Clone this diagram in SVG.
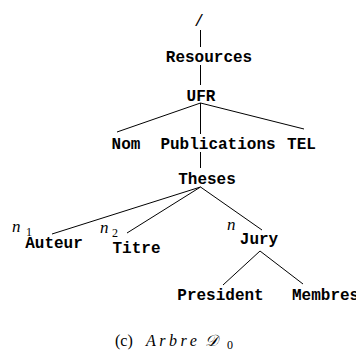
<svg xmlns="http://www.w3.org/2000/svg" width="356" height="358" viewBox="0 0 356 358">
  <style>
    .lbl { font-family: "Liberation Mono", "DejaVu Sans Mono", monospace; font-weight: bold; font-size: 16px; fill: #000; text-anchor: middle; }
    .root { font-family: "Liberation Mono", "DejaVu Sans Mono", monospace; font-size: 16px; fill: #000; text-anchor: middle; }
    .var { font-family: "Liberation Serif", "DejaVu Serif", serif; font-style: italic; font-size: 17px; fill: #000; }
    .sub { font-family: "Liberation Serif", "DejaVu Serif", serif; font-size: 12px; fill: #000; }
    .cap { font-family: "Liberation Serif", "DejaVu Serif", serif; font-size: 16px; fill: #000; }
    .edge { stroke: #000; stroke-width: 1; fill: none; }
  </style>
  <rect width="356" height="358" fill="#fff"/>

  <!-- tree edges -->
  <g id="edges" class="edge">
    <line x1="200.5" y1="30" x2="200.5" y2="47"/>
    <line x1="200.5" y1="65" x2="200.5" y2="85"/>
    <line x1="200.5" y1="103" x2="117" y2="132"/>
    <line x1="200.5" y1="103" x2="200.5" y2="134"/>
    <line x1="200.5" y1="103" x2="304" y2="129"/>
    <line x1="200.5" y1="152" x2="200.5" y2="168"/>
    <line x1="200.5" y1="187" x2="52" y2="234"/>
    <line x1="200.5" y1="187" x2="127" y2="233"/>
    <line x1="200.5" y1="187" x2="262" y2="230"/>
    <line x1="260" y1="251" x2="223" y2="285"/>
    <line x1="260" y1="251" x2="303" y2="284"/>
  </g>

  <!-- nodes -->
  <g id="node-root"><text class="root" x="199" y="26">/</text></g>
  <g id="node-resources"><text class="lbl" x="209" y="62">Resources</text></g>
  <g id="node-ufr"><text class="lbl" x="201" y="101">UFR</text></g>
  <g id="node-nom"><text class="lbl" x="126" y="149">Nom</text></g>
  <g id="node-publications"><text class="lbl" x="218" y="149">Publications</text></g>
  <g id="node-tel"><text class="lbl" x="301.5" y="149">TEL</text></g>
  <g id="node-theses"><text class="lbl" x="207" y="184">Theses</text></g>
  <g id="node-auteur">
    <text class="var" x="12" y="232">n</text><text class="sub" x="26" y="236">1</text>
    <text class="lbl" x="54" y="248">Auteur</text>
  </g>
  <g id="node-titre">
    <text class="var" x="100" y="233">n</text><text class="sub" x="112" y="237">2</text>
    <text class="lbl" x="136.5" y="253">Titre</text>
  </g>
  <g id="node-jury">
    <text class="var" x="227" y="230">n</text>
    <text class="lbl" x="259" y="244">Jury</text>
  </g>
  <g id="node-president"><text class="lbl" x="220.5" y="300">President</text></g>
  <g id="node-membres"><text class="lbl" x="292" y="300" style="text-anchor:start">Membres</text></g>

  <!-- caption -->
  <g id="caption">
    <text class="cap" x="115" y="346">(c)</text>
    <text class="cap" x="146" y="346" font-style="italic" letter-spacing="3.5">Arbre</text>
    <text class="cap" x="205" y="346" font-size="17" font-style="italic">𝒟</text>
    <text class="sub" x="227" y="349">0</text>
  </g>
</svg>
